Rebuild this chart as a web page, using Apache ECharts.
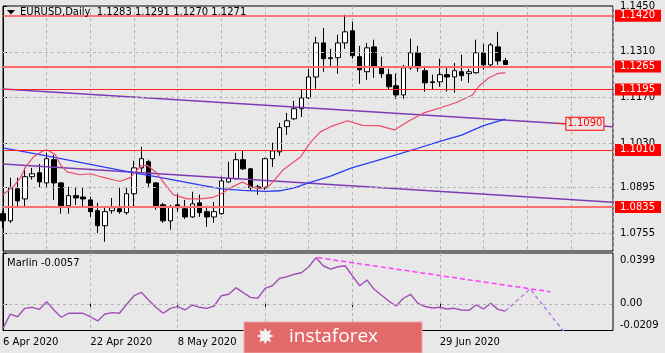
<!DOCTYPE html>
<html>
<head>
<meta charset="utf-8">
<script src="https://cdn.jsdelivr.net/npm/echarts@6/dist/echarts.min.js"></script>
<style>
  html, body { margin: 0; padding: 0; background: #e8e8e8; }
  #chart { width: 665px; height: 353px; }
</style>
</head>
<body>
<div id="chart"></div>
<script>
// EURUSD daily bars, index 0 = 6 Apr 2020, last bar = 10 Jul 2020
const opens = [1.0815,1.0793,1.0891,1.0860,1.0928,1.0940,1.0909,1.0980,1.0909,1.0839,
  1.0870,1.0866,1.0857,1.0824,1.0778,1.0824,1.0830,1.0818,1.0876,1.0955,
  1.0974,1.0909,1.0842,1.0793,1.0842,1.0830,1.0805,1.0848,1.0821,1.0805,
  1.0815,1.0912,1.0922,1.0980,1.0952,1.0894,1.0894,1.0983,1.1004,1.1081,
  1.1105,1.1136,1.1169,1.1233,1.1337,1.1289,1.1292,1.1337,1.1374,1.1295,
  1.1249,1.1325,1.1264,1.1240,1.1206,1.1178,1.1261,1.1307,1.1252,1.1218,
  1.1218,1.1240,1.1233,1.1249,1.1243,1.1246,1.1307,1.1270,1.1325,1.1283]
const closes = [1.0793,1.0894,1.0854,1.0928,1.0937,1.0912,1.0983,1.0909,1.0839,1.0870,
  1.0863,1.0860,1.0821,1.0778,1.0821,1.0833,1.0821,1.0876,1.0955,1.0983,
  1.0909,1.0839,1.0793,1.0836,1.0833,1.0805,1.0845,1.0818,1.0805,1.0821,
  1.0915,1.0922,1.0980,1.0952,1.0894,1.0897,1.0983,1.1007,1.1078,1.1099,
  1.1136,1.1169,1.1233,1.1337,1.1289,1.1292,1.1337,1.1371,1.1298,1.1255,
  1.1322,1.1264,1.1243,1.1203,1.1178,1.1261,1.1307,1.1261,1.1215,1.1216,
  1.1240,1.1233,1.1252,1.1237,1.1249,1.1307,1.1270,1.1331,1.1282,1.1271]
const lows = [1.0772,1.0787,1.0833,1.0833,1.0919,1.0894,1.0897,1.0857,1.0815,1.0815,
  1.0842,1.0836,1.0805,1.0756,1.0729,1.0815,1.0815,1.0812,1.0833,1.0943,
  1.0897,1.0827,1.0787,1.0766,1.0821,1.0799,1.0802,1.0805,1.0775,1.0787,
  1.0812,1.0909,1.0919,1.0949,1.0885,1.0873,1.0888,1.0958,1.0992,1.1056,
  1.1102,1.1111,1.1166,1.1197,1.1249,1.1264,1.1243,1.1319,1.1289,1.1212,
  1.1224,1.1230,1.1230,1.1194,1.1166,1.1166,1.1255,1.1249,1.1188,1.1194,
  1.1203,1.1188,1.1185,1.1221,1.1215,1.1243,1.1255,1.1264,1.1270,1.1270]
const highs = [1.0824,1.0925,1.0925,1.0955,1.0955,1.0967,1.1001,1.0995,1.0912,1.0897,
  1.0897,1.0894,1.0867,1.0848,1.0833,1.0863,1.0894,1.0894,1.0977,1.1020,
  1.0980,1.0912,1.0848,1.0842,1.0876,1.0857,1.0882,1.0873,1.0839,1.0851,
  1.0928,1.0974,1.1001,1.1007,1.0955,1.0903,1.0986,1.1032,1.1093,1.1123,
  1.1160,1.1194,1.1258,1.1356,1.1383,1.1319,1.1362,1.1423,1.1402,1.1328,
  1.1337,1.1347,1.1295,1.1258,1.1243,1.1270,1.1350,1.1328,1.1267,1.1240,
  1.1289,1.1264,1.1276,1.1301,1.1258,1.1347,1.1334,1.1337,1.1371,1.1291]

// moving averages, read at bar positions
const blueIdx = [0,6,12,18,21,27,30,33,36,38,40,42,45,48,51,54,57,60,63,66,69]
const blueVal = [1.1016,1.0992,1.0966,1.0940,1.0928,1.0903,1.0891,1.0886,1.0883,1.0885,1.0894,
  1.0909,1.0930,1.0956,1.0975,1.0995,1.1015,1.1036,1.1055,1.1084,1.1104]
const pinkIdx = [0,1.4,2.4,3.1,4.2,5.5,6.1,7.2,7.9,8.8,10.6,12,13.4,15.2,16.1,17.5,18.9,19.8,21.1,22.2,
  23.4,25.3,27.1,28.9,30,31.5,32.9,34.1,35.4,36.7,38.5,40.9,42.2,43.6,45,47.3,49.4,51.6,53.8,55.8,
  57.8,60.1,62.2,64.5,65.3,66.7,67.9,69]
const pinkVal = [1.0873,1.0897,1.0925,1.0958,1.0989,1.1007,1.1010,1.0995,1.0964,1.0943,1.0934,1.0937,
  1.0928,1.0918,1.0914,1.0925,1.0961,1.0963,1.0940,1.0906,1.0873,1.0860,1.0860,1.0865,1.0876,1.0897,
  1.0912,1.0897,1.0891,1.0903,1.0949,1.0989,1.1032,1.1065,1.1081,1.1099,1.1085,1.1084,1.1071,1.1099,
  1.1123,1.1139,1.1154,1.1178,1.1203,1.1230,1.1243,1.1246]

// drawn objects
const trendUpper = [[0, 1.1196], [83.8, 1.1081]]
const trendLower = [[0, 1.0967], [83.8, 1.0850]]
const trendLabel = 1.1090
const levels = [1.1420, 1.1265, 1.1195, 1.1010, 1.0835]
const bidPrice = 1.1271

// Marlin oscillator
const marlin = [-0.0192,-0.0080,-0.0101,-0.0035,-0.0027,-0.0043,0.0017,-0.0048,-0.0105,-0.0074,
  -0.0074,-0.0074,-0.0101,-0.0134,-0.0080,-0.0069,-0.0074,-0.0003,0.0064,0.0091,
  0.0030,-0.0027,-0.0074,-0.0035,-0.0022,-0.0048,-0.0009,-0.0027,-0.0035,-0.0017,
  0.0064,0.0075,0.0127,0.0088,0.0051,0.0044,0.0122,0.0142,0.0200,0.0213,
  0.0232,0.0244,0.0291,0.0362,0.0299,0.0273,0.0291,0.0299,0.0220,0.0142,
  0.0187,0.0114,0.0068,0.0022,-0.0017,0.0044,0.0075,0.0004,-0.0021,-0.0032,
  -0.0027,-0.0040,-0.0035,-0.0048,-0.0051,-0.0009,-0.0040,0.0004,-0.0043,-0.0057]
const marlinTrend = [[43.2, 0.0363], [75.2, 0.0095]]
const marlinForecast = [[69, -0.0057], [72.4, 0.0117], [77.0, -0.0215]]

// axes
const priceTicks = [1.1450, 1.1310, 1.1170, 1.1030, 1.0895, 1.0755]
const marlinTicks = [0.0399, 0, -0.0209]
const dateTicks = [0, 12, 24, 36, 48, 60]
const dateLabels = ['6 Apr 2020', '22 Apr 2020', '8 May 2020', '26 May 2020', '11 Jun 2020', '29 Jun 2020']

const FONT = 'DejaVu Sans'
const levelStyles = [
  { color: '#ff5050', width: 1.5 },
  { color: '#ff6a6a', width: 2 },
  { color: '#ff2020', width: 1 },
  { color: '#ff2020', width: 1 },
  { color: '#ff7070', width: 2 }
]
const gridDash = { color: '#b4b4b4', type: [3, 3], width: 1 }

const candles = opens.map((o, i) => [i, o, closes[i], lows[i], highs[i]])
const last = opens.length - 1

// MT4 keeps the edge labels of the sub window inside it
function marlinLabel(v) {
  if (v === 0) return '0.00'
  return v > 0 ? '{top|' + v.toFixed(4) + '}' : '{bot|' + v.toFixed(4) + '}'
}

const chart = echarts.init(document.getElementById('chart'))

chart.setOption({
  animation: false,
  backgroundColor: '#e8e8e8',
  textStyle: { fontFamily: FONT },
  grid: [
    { left: 3, right: 52, top: 6, height: 245, show: true, borderColor: '#000', borderWidth: 1 },
    { left: 3, right: 52, top: 253, height: 77.5, show: true, borderColor: '#000', borderWidth: 1 }
  ],
  xAxis: [
    {
      type: 'value', gridIndex: 0, min: 0, max: 83.8, interval: 6,
      axisLine: { show: false }, axisTick: { show: false }, axisLabel: { show: false },
      splitLine: { show: true, lineStyle: gridDash }
    },
    {
      type: 'value', gridIndex: 1, min: 0, max: 83.8, interval: 6,
      axisLine: { show: false },
      axisTick: { show: true, customValues: dateTicks, length: 3, lineStyle: { color: '#000' } },
      axisLabel: {
        customValues: dateTicks, align: 'left', margin: 7,
        color: '#000', fontSize: 10, fontFamily: FONT,
        formatter: v => dateLabels[dateTicks.indexOf(v)]
      },
      splitLine: { show: true, lineStyle: gridDash }
    }
  ],
  yAxis: [
    {
      type: 'value', gridIndex: 0, position: 'right', min: 1.07008, max: 1.1450,
      axisLine: { show: true, lineStyle: { color: '#000' } },
      axisTick: { show: true, customValues: priceTicks, length: 4, lineStyle: { color: '#000' } },
      axisLabel: {
        customValues: priceTicks, margin: 7, color: '#000', fontSize: 10, fontFamily: FONT,
        formatter: v => v.toFixed(4)
      },
      splitLine: { show: false }
    },
    {
      type: 'value', gridIndex: 1, position: 'right', min: -0.0209, max: 0.0399,
      axisLine: { show: true, lineStyle: { color: '#000' } },
      axisTick: { show: true, customValues: marlinTicks, length: 4, lineStyle: { color: '#000' } },
      axisLabel: {
        customValues: marlinTicks, margin: 7, color: '#000', fontSize: 10, fontFamily: FONT,
        formatter: marlinLabel,
        rich: {
          top: { fontSize: 10, fontFamily: FONT, color: '#000', padding: [14, 0, 0, 0] },
          bot: { fontSize: 10, fontFamily: FONT, color: '#000', padding: [0, 0, 10, 0] }
        }
      },
      splitLine: { show: false }
    }
  ],
  series: [
    // horizontal grid lines of the price panel
    {
      type: 'line', xAxisIndex: 0, yAxisIndex: 0, data: [], z: 1, silent: true,
      markLine: {
        symbol: ['none', 'none'], silent: true, precision: 4, label: { show: false },
        lineStyle: gridDash,
        data: priceTicks.slice(1).map(v => ({ yAxis: v }))
      }
    },
    {
      type: 'candlestick', xAxisIndex: 0, yAxisIndex: 0, data: candles, barWidth: 5, z: 3,
      itemStyle: { color: '#ffffff', color0: '#000000', borderColor: '#000000', borderColor0: '#000000', borderWidth: 1 }
    },
    {
      type: 'line', xAxisIndex: 0, yAxisIndex: 0, data: trendUpper, symbol: 'none', z: 4,
      lineStyle: { color: '#7d3cb5', width: 1.5 },
      markLine: {
        symbol: ['none', 'none'], silent: true, precision: 4,
        lineStyle: { color: '#ff2020', width: 1, type: 'solid' },
        label: {
          position: 'end', distance: 0, formatter: () => trendLabel.toFixed(4),
          color: '#ff0000', backgroundColor: '#e8e8e8', borderColor: '#ff0000', borderWidth: 1,
          padding: [1, 1, 0, 1], fontSize: 10, lineHeight: 11, fontFamily: FONT
        },
        data: [[{ coord: [75.9, trendLabel] }, { coord: [77.4, trendLabel] }]]
      }
    },
    {
      type: 'line', xAxisIndex: 0, yAxisIndex: 0, data: trendLower, symbol: 'none', z: 4,
      lineStyle: { color: '#7d3cb5', width: 1.5 }
    },
    {
      type: 'line', xAxisIndex: 0, yAxisIndex: 0, symbol: 'none', z: 4,
      data: blueIdx.map((x, k) => [x, blueVal[k]]),
      lineStyle: { color: '#2b3cf5', width: 1.3 }
    },
    {
      type: 'line', xAxisIndex: 0, yAxisIndex: 0, symbol: 'none', z: 4,
      data: pinkIdx.map((x, k) => [x, pinkVal[k]]),
      lineStyle: { color: '#ee4a6a', width: 1.2 }
    },
    // horizontal levels with price tags on the axis
    {
      type: 'line', xAxisIndex: 0, yAxisIndex: 0, data: [], z: 5,
      markLine: {
        symbol: ['none', 'none'], silent: true, precision: 4,
        label: {
          position: 'end', distance: 2, formatter: p => p.value.toFixed(4),
          color: '#fff', backgroundColor: '#ff0000',
          padding: [1, 6, 0, 5], fontSize: 10, lineHeight: 11, fontFamily: FONT
        },
        data: [{ yAxis: bidPrice, lineStyle: { opacity: 0 }, label: { backgroundColor: '#000' } }]
          .concat(levels.map((v, k) => ({ yAxis: v, lineStyle: { type: 'solid', ...levelStyles[k] } })))
      }
    },
    // Marlin panel
    {
      type: 'line', xAxisIndex: 1, yAxisIndex: 1, data: [], z: 1, silent: true,
      markLine: {
        symbol: ['none', 'none'], silent: true, precision: 4, label: { show: false },
        lineStyle: gridDash, data: [{ yAxis: 0 }]
      }
    },
    {
      type: 'line', xAxisIndex: 1, yAxisIndex: 1, symbol: 'none', z: 3,
      data: marlin.map((v, i) => [i, v]),
      lineStyle: { color: '#a24fb5', width: 1.4 }
    },
    {
      type: 'line', xAxisIndex: 1, yAxisIndex: 1, symbol: 'none', z: 3,
      data: marlinTrend,
      lineStyle: { color: '#ff3cff', width: 1.5, type: [5, 3] }
    },
    {
      type: 'line', xAxisIndex: 1, yAxisIndex: 1, symbol: 'none', z: 3,
      data: marlinForecast,
      lineStyle: { color: '#b06ee6', width: 1.3, type: [4, 3] }
    }
  ],
  graphic: [
    { type: 'polygon', z: 50, shape: { points: [[7, 10], [15, 10], [11, 14.5]] }, style: { fill: '#000' } },
    {
      type: 'text', x: 20, y: 12, z: 50,
      style: {
        text: 'EURUSD,Daily  ' + [opens[last], highs[last], lows[last], closes[last]].map(v => v.toFixed(4)).join(' '),
        fill: '#000', font: '10px "DejaVu Sans"', verticalAlign: 'middle'
      }
    },
    {
      type: 'text', x: 7, y: 263, z: 50,
      style: { text: 'Marlin ' + marlin[last].toFixed(4), fill: '#000', font: '10px "DejaVu Sans"', verticalAlign: 'middle' }
    },
    { type: 'rect', z: 100, shape: { x: 244, y: 322, width: 178, height: 31 }, style: { fill: '#e36a6a', stroke: '#f0a6a6', lineWidth: 1 } },
    { type: 'text', z: 101, x: 256, y: 338, style: { text: '✸', fill: '#f2f2f2', font: '22px "DejaVu Sans"', verticalAlign: 'middle' } },
    { type: 'text', z: 101, x: 289, y: 337, style: { text: 'instaforex', fill: '#ffffff', font: '19px "Open Sans"', verticalAlign: 'middle' } }
  ]
})
</script>
</body>
</html>
